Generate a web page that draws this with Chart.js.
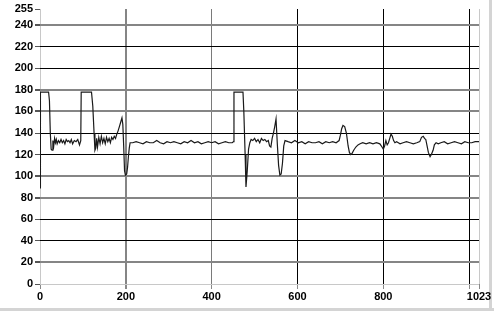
<!DOCTYPE html>
<html><head><meta charset="utf-8">
<script src="https://cdn.jsdelivr.net/npm/chart.js@4/dist/chart.umd.min.js"></script>
<style>html,body{margin:0;padding:0;background:#fff;}#c{display:block;}</style>
</head><body>
<canvas id="c" width="494" height="314"></canvas>
<script>
const xValues = [0,1,20,22,24,26,28,30,32,34,36,38,40,43,46,49,52,55,58,61,64,67,70,73,76,80,84,88,92,95,
96,120,123,126,128,130,132,134,137,140,143,146,149,152,155,158,161,164,167,170,173,176,179,182,185,188,191,193,195,197,199,202,204,206,208,210,
216,224,232,240,248,256,264,272,280,288,296,304,312,320,328,336,344,352,360,368,376,384,392,400,408,416,424,432,440,448,
451,452,473,475,478,480,483,486,489,492,496,500,504,508,512,516,520,524,528,532,535,538,541,544,547,550,553,556,559,562,565,568,571,
578,586,594,602,610,618,626,634,642,650,658,666,674,682,690,697,700,703,706,710,714,718,721,724,727,731,736,741,746,752,760,768,776,784,792,797,800,803,806,809,812,815,818,821,824,827,831,835,839,846,854,862,870,878,885,889,893,896,899,902,905,909,912,916,919,923,928,934,942,950,958,966,974,982,990,998,1006,1014,1023];
const yValues = [89,178,178,170,140,125,124,133,128,135,131,134,130,133,131,134,131,133,130,134,132,133,131,134,130,133,132,134,129,133,
178,178,165,140,124,126,135,127,136,130,137,131,135,130,136,132,135,131,136,134,137,135,139,142,146,150,154,148,128,105,101,102,108,118,126,131,
131,132,131,130,132,131,131,133,131,130,132,131,132,131,130,132,131,133,131,132,130,131,132,131,132,130,131,132,131,131,
132,178,178,160,120,90,105,125,131,134,133,135,132,134,131,135,133,134,132,133,128,127,135,140,146,153,130,110,101,102,112,128,133,
132,131,133,131,132,130,132,131,131,132,130,132,131,132,131,133,138,144,147,146,140,128,122,120,121,124,127,129,130,131,130,131,130,131,130,127,125,128,133,129,131,135,139,137,133,131,132,131,130,131,132,131,130,131,132,136,137,135,134,128,122,118,120,124,129,131,130,131,132,130,131,132,131,130,132,131,131,132,132];
const xTicks = [0,200,400,600,800,1000,1023];
const xTickLabels = ['0','200','400','600','800','','1023'];
const yTicks = [0,20,40,60,80,100,120,140,160,180,200,220,240,255];

const data = xValues.map((x,i)=>({x:x,y:yValues[i]}));
const GREY='#858585', BLACK='#000000', LIGHT='#c8c8c8';
const yGrid = {0:LIGHT,20:GREY,40:BLACK,60:BLACK,80:GREY,100:GREY,120:BLACK,140:BLACK,160:GREY,180:GREY,200:BLACK,220:BLACK,240:GREY,255:'rgba(0,0,0,0)'};
const xGrid = {0:LIGHT,200:GREY,400:'#7a7a7a',600:BLACK,800:BLACK,1000:BLACK,1023:LIGHT};
const xGridW = {0:1,200:2,400:1,600:1,800:1,1000:1,1023:1};
const yGridW = {0:1,20:2,40:1,60:1,80:2,100:2,120:1,140:1,160:2,180:2,200:1,220:1,240:2,255:1};

const frame = {id:'frame', beforeDraw(c){const g=c.ctx; g.save(); g.fillStyle='#fff'; g.fillRect(0,0,c.width,c.height);
  g.fillStyle='#d4d4d4'; g.fillRect(0,308,494,3); g.fillRect(489,0,3,311); g.restore();}};

new Chart(document.getElementById('c'),{
  type:'line',
  data:{datasets:[{data:data,borderColor:'#1a1a1a',borderWidth:1.2,pointRadius:0,tension:0,fill:false}]},
  options:{
    responsive:false,animation:false,
    layout:{padding:{top:9,right:15,left:0,bottom:0}},
    plugins:{legend:{display:false},tooltip:{enabled:false}},
    scales:{
      x:{type:'linear',min:0,max:1023,
        afterBuildTicks:s=>{s.ticks=xTicks.map(v=>({value:v}));},
        afterFit:s=>{s.height=30;},
        border:{display:false},
        grid:{color:ctx=>xGrid[ctx.tick.value]||BLACK,lineWidth:ctx=>xGridW[ctx.tick.value]||1,tickLength:5,tickColor:'#888'},
        ticks:{autoSkip:false,maxRotation:0,padding:1,color:'#000',font:{family:'Liberation Sans',weight:'bold',size:11},
          callback:(v)=>xTickLabels[xTicks.indexOf(v)]}},
      y:{type:'linear',min:0,max:255,
        afterBuildTicks:s=>{s.ticks=yTicks.map(v=>({value:v}));},
        afterFit:s=>{s.width=40;},
        border:{display:false},
        grid:{color:ctx=>yGrid[ctx.tick.value]||BLACK,lineWidth:ctx=>yGridW[ctx.tick.value]||1,tickLength:5,tickColor:'#555'},
        ticks:{autoSkip:false,padding:2,color:'#000',font:{family:'Liberation Sans',weight:'bold',size:11}}}
    }
  },
  plugins:[frame]
});
</script>
</body></html>
